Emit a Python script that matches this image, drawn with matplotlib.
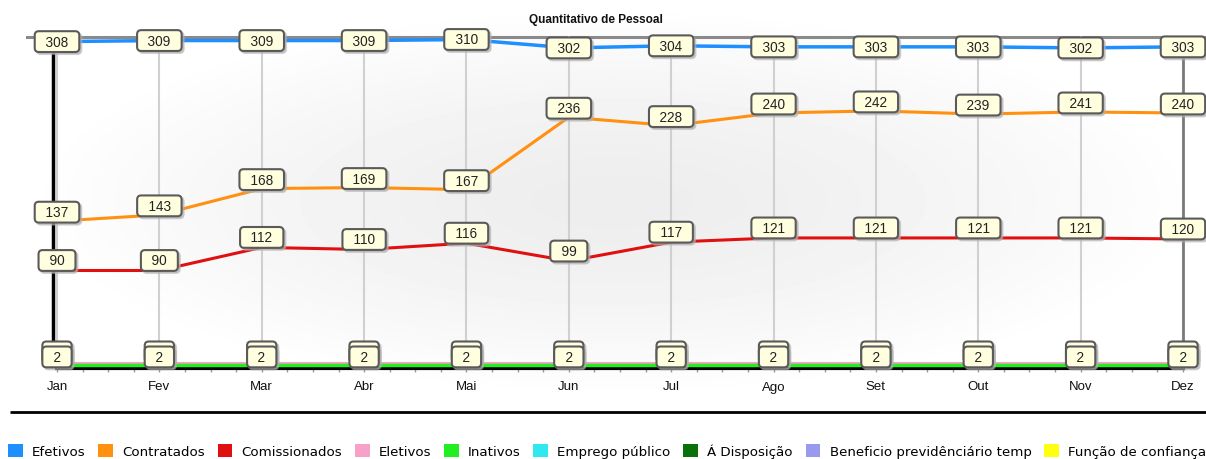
import numpy as np
import matplotlib
matplotlib.use("Agg")
import matplotlib.pyplot as plt
from matplotlib.patches import Patch

# Dados
meses = ["Jan", "Fev", "Mar", "Abr", "Mai", "Jun", "Jul", "Ago", "Set", "Out", "Nov", "Dez"]
efetivos = [308, 309, 309, 309, 310, 302, 304, 303, 303, 303, 302, 303]
contratados = [137, 143, 168, 169, 167, 236, 228, 240, 242, 239, 241, 240]
comissionados = [90, 90, 112, 110, 116, 99, 117, 121, 121, 121, 121, 120]
eletivos = [2] * 12
inativos = [0] * 12

legenda = ["Efetivos", "Contratados", "Comissionados", "Eletivos", "Inativos",
           "Emprego público", "Á Disposição", "Beneficio previdênciário temp",
           "Função de confiança"]
cores = ["#1E8FFF", "#FF9010", "#E01010", "#F7A0C8", "#22EE22",
         "#30E8F0", "#0A700A", "#9999EE", "#FFFF10"]

W, H = 1206, 460
fig = plt.figure(figsize=(W / 100, H / 100), dpi=100)
fig.patch.set_facecolor("white")

# fundo com degradê suave
bg = fig.add_axes([0, 0, 1, 1], zorder=0)
bg.set_xlim(0, W)
bg.set_ylim(H, 0)
bg.axis("off")
gx, gy = np.meshgrid(np.linspace(-1, 1, 300), np.linspace(-1, 1, 120))
r = np.clip(np.sqrt(gx ** 2 + gy ** 2), 0, 1)
grad = 0.93 + 0.07 * r ** 1.5
bg.imshow(grad, cmap="gray", vmin=0, vmax=1, extent=(20, W, 400, 5),
          aspect="auto", interpolation="bilinear")
# linha separadora
bg.plot([10, W], [413, 413], color="black", lw=2, solid_capstyle="butt")
# linha cinza do topo
bg.plot([27, W], [38, 38], color="#8a8a8a", lw=2.2)

# eixo principal
x0, x1 = 57, 1183
step = (x1 - x0) / 11
left_px, right_px = 20, W
top_px, bot_px = 37, 369
ax = fig.add_axes([left_px / W, 1 - bot_px / H, (right_px - left_px) / W, (bot_px - top_px) / H], zorder=1)
ax.set_facecolor("none")
ax.set_xlim((left_px - x0) / step, (right_px - x0) / step)
ax.set_ylim(-(bot_px - 366) / 1.05, (366 - top_px) / 1.05)
for s in ax.spines.values():
    s.set_visible(False)

x = np.arange(len(meses))
for xi in x:
    ax.axvline(xi, color="#d0d0d0", lw=1.5, zorder=1)
ax.axvline(11, color="#7a7a7a", lw=2, zorder=1)
ax.axvline(-0.04, color="black", lw=2.5, zorder=1)
ax.plot([0, 11], [ax.get_ylim()[0]] * 2, color="black", lw=3, zorder=2, clip_on=False)

ax.set_xticks(x)
ax.set_xticklabels(meses, fontsize=9.5, family="Liberation Sans", color="#111111")
ax.set_xticks(np.arange(0, 11.01, 0.25), minor=True)
ax.tick_params(axis="x", which="both", direction="out", length=3, width=1, color="#999999", pad=6)
ax.set_yticks([])

series = [(efetivos, cores[0], 2.5), (contratados, cores[1], 2.2),
          (comissionados, cores[2], 2.2), (eletivos, cores[3], 2.2),
          (inativos, cores[4], 2.5)]
for vals, c, lw in series:
    ax.plot(x, vals, color=c, lw=lw, zorder=3, solid_capstyle="butt")

box = dict(boxstyle="round,pad=0.25,rounding_size=0.3", fc="#FFFFE0", ec="#5a5a5a", lw=1.5)
shadow = dict(boxstyle="round,pad=0.25,rounding_size=0.3", fc="#b0b0b0", ec="#b0b0b0", lw=1.5, alpha=0.6)


def rotulo(xi, v, dy, z=5, txt=None):
    if txt is None:
        txt = f"  {v}  "
    ax.annotate(txt, (xi, v), xytext=(2, dy - 2), textcoords="offset pixels",
                ha="center", va="center", fontsize=9.8, family="Liberation Sans",
                color="#222222", bbox=shadow, zorder=z - 0.5)
    ax.annotate(txt, (xi, v), xytext=(0, dy), textcoords="offset pixels",
                ha="center", va="center", fontsize=9.8, family="Liberation Sans",
                color="#222222", bbox=box, zorder=z)


for xi in x:
    rotulo(xi, efetivos[xi], 0)
    rotulo(xi, contratados[xi], 9)
    rotulo(xi, comissionados[xi], 10)
    # caixa empilhada atrás (rótulo sobreposto)
    rotulo(xi, eletivos[xi], 11, z=4, txt="      ")
    rotulo(xi, eletivos[xi], 6, z=6)

fig.text(596 / W, 1 - 20 / H, "Quantitativo de Pessoal", ha="center", va="center",
         fontsize=8.5, fontweight="bold", family="Liberation Sans", color="#111111")

handles = [Patch(facecolor=c, edgecolor="none") for c in cores]
fig.legend(handles, legenda, loc="center left", bbox_to_anchor=(8 / W, 1 - 452 / H),
           ncol=9, frameon=False, fontsize=9.6, handlelength=1.1, handleheight=1.1,
           handletextpad=0.7, columnspacing=0.95, borderpad=0, borderaxespad=0)

fig.savefig("out.png", dpi=100)
